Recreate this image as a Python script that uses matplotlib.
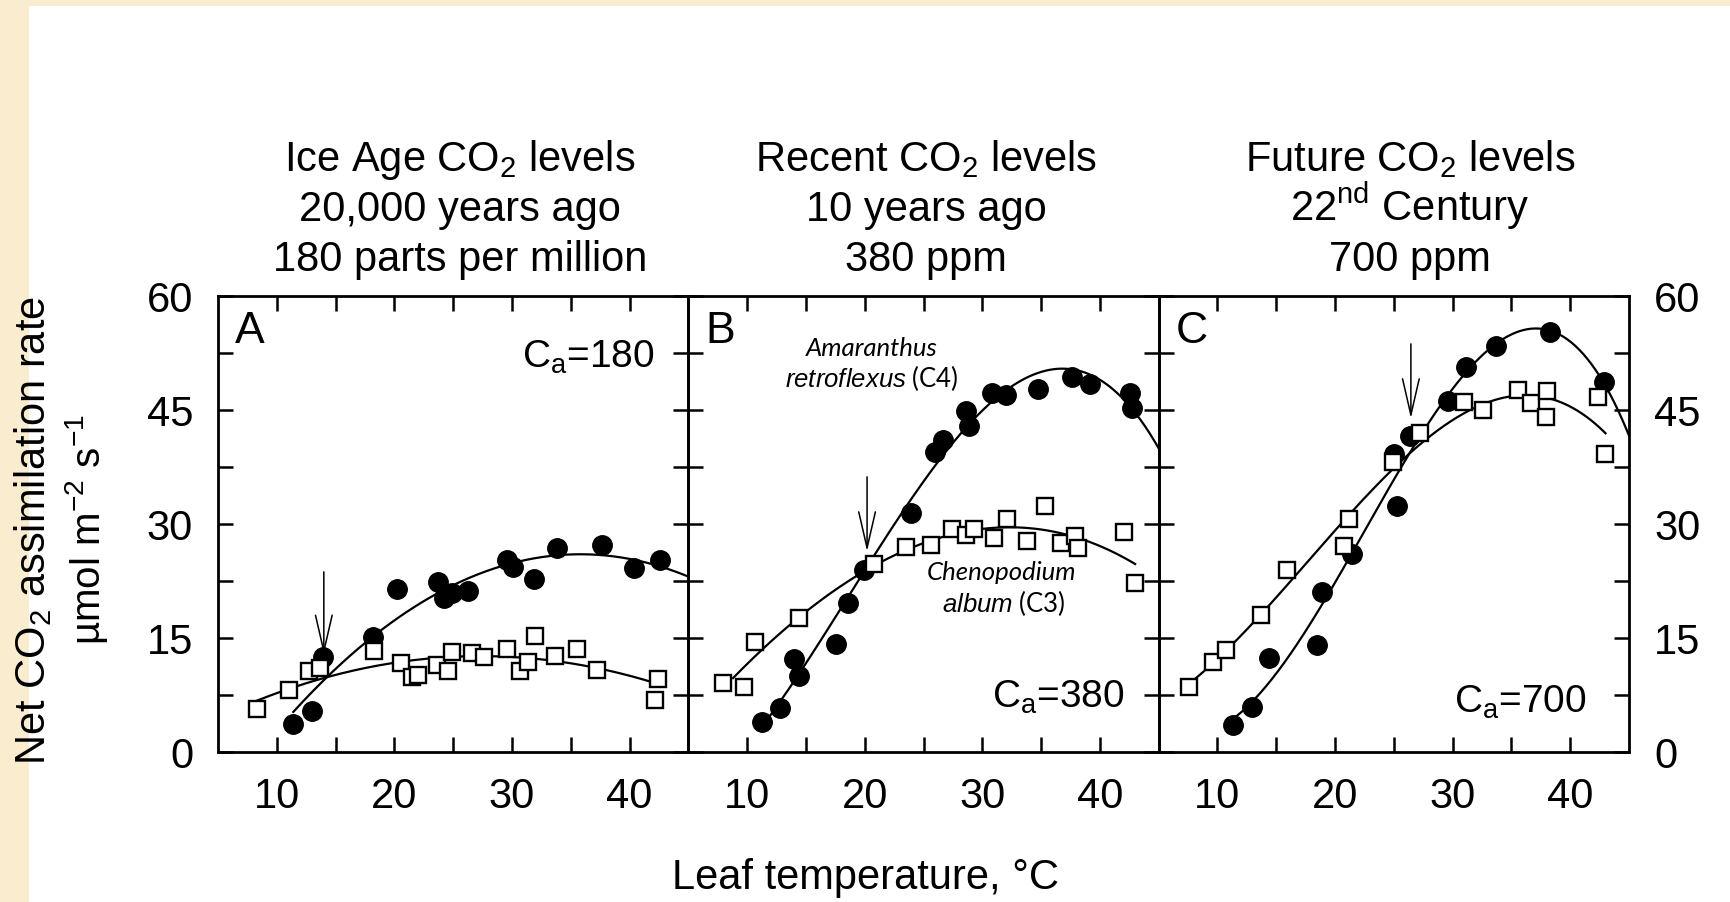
import matplotlib.pyplot as plt
import numpy as np
from matplotlib.patches import Rectangle

plt.rcParams['font.family'] = 'Liberation Sans'
plt.rcParams['mathtext.fontset'] = 'custom'
plt.rcParams['mathtext.rm'] = 'Liberation Sans'
plt.rcParams['mathtext.it'] = 'Liberation Sans:italic'

# --- data (leaf temperature degC, net assimilation umol m-2 s-1) ---
# panel A, Ca = 180
a_c4_t = [11.4, 13.0, 13.9, 18.2, 20.2, 23.7, 24.2, 24.9, 26.3, 29.6, 30.1, 31.9, 33.8, 37.7, 40.4, 42.6]
a_c4_a = [3.7, 5.4, 12.5, 15.1, 21.4, 22.4, 20.2, 20.9, 21.2, 25.3, 24.3, 22.7, 26.9, 27.2, 24.2, 25.3]
a_c3_t = [8.35, 11.0, 12.7, 13.7, 18.3, 20.6, 21.5, 22.05, 23.6, 24.6, 24.9, 26.6, 27.6, 29.6, 30.7,
          31.4, 32.0, 33.7, 35.5, 37.2, 42.4, 42.2]
a_c3_a = [5.7, 8.1, 10.6, 11.1, 13.3, 11.7, 9.9, 10.1, 11.4, 10.6, 13.1, 13.0, 12.5, 13.5, 10.7,
          11.9, 15.3, 12.6, 13.6, 10.8, 9.6, 6.9]
# panel B, Ca = 380
b_c4_t = [11.3, 12.8, 14.0, 14.4, 17.6, 18.6, 19.9, 23.9, 26.0, 26.7, 28.6, 28.85, 30.85, 32.0,
          34.7, 37.6, 39.15, 42.55, 42.7]
b_c4_a = [3.9, 5.75, 12.3, 10.0, 14.2, 19.6, 24.0, 31.5, 39.5, 41.05, 44.9, 42.9, 47.3, 47.0,
          47.7, 49.3, 48.4, 47.2, 45.2]
b_c3_t = [7.95, 9.7, 10.7, 14.45, 20.8, 23.5, 25.6, 27.4, 28.6, 29.3, 31.0, 32.1, 33.8, 35.3,
          36.7, 37.9, 38.1, 42.05, 43.0]
b_c3_a = [9.1, 8.6, 14.5, 17.6, 24.7, 27.0, 27.2, 29.3, 28.55, 29.4, 28.2, 30.7, 27.7, 32.4,
          27.5, 28.4, 26.9, 29.0, 22.2]
# panel C, Ca = 700
c_c4_t = [11.3, 12.9, 14.4, 18.5, 18.9, 21.4, 25.3, 25.0, 26.4, 29.6, 31.1, 33.7, 38.3, 42.85]
c_c4_a = [3.55, 5.96, 12.4, 14.1, 21.0, 26.1, 32.4, 39.2, 41.6, 46.2, 50.6, 53.4, 55.2, 48.7]
c_c3_t = [7.6, 9.6, 10.7, 13.7, 15.9, 20.8, 21.2, 24.9, 27.2, 31.0, 32.55, 35.6, 36.7, 38.0,
          37.9, 42.4, 42.96]
c_c3_a = [8.6, 11.9, 13.4, 18.0, 23.9, 27.1, 30.6, 38.1, 42.0, 46.0, 45.0, 47.6, 45.9, 47.5,
          44.1, 46.75, 39.2]

# x-extent of the fitted curves (start, end) and polynomial degree
c4_range = [(11.4, 45), (11.3, 45), (11.3, 45)]
c3_range = [(8.35, 42.4), (8.8, 43.0), (7.6, 43.0)]
c4_deg = [2, 3, 4]
c3_deg = [2, 3, 3]

# crossover arrows (x, top, tip)
arrow_x = [14.0, 20.2, 26.45]
arrow_top = [23.7, 36.2, 53.7]
arrow_tip = [12.8, 26.4, 43.9]

letters = ['A', 'B', 'C']
titles = [['Ice Age CO$\\mathregular{_2}$ levels', '20,000 years ago', '180 parts per million'],
          ['Recent CO$\\mathregular{_2}$ levels', '10 years ago', '380 ppm'],
          ['Future CO$\\mathregular{_2}$ levels', '22$\\mathregular{^{nd}}$ Century', '700 ppm']]
title_x = [460, 926, 1410]

W, H = 1730, 902
fig = plt.figure(figsize=(W / 100, H / 100), dpi=100, facecolor='#F9ECCF')
fig.add_artist(Rectangle((29 / W, 0), 1, 1 - 6 / H, transform=fig.transFigure,
                         facecolor='white', edgecolor='none', zorder=-10))

left, right, bot, top = 218 / W, 1629 / W, 1 - 752 / H, 1 - 296 / H
pw = (right - left) / 3
axs = [fig.add_axes([left + i * pw, bot, pw, top - bot]) for i in range(3)]

C4 = [(a_c4_t, a_c4_a), (b_c4_t, b_c4_a), (c_c4_t, c_c4_a)]
C3 = [(a_c3_t, a_c3_a), (b_c3_t, b_c3_a), (c_c3_t, c_c3_a)]

for i, ax in enumerate(axs):
    ax.set_xlim(5, 45); ax.set_ylim(0, 60)
    ax.set_facecolor('none')
    for s in ax.spines.values(): s.set_linewidth(2)
    ax.set_xticks(np.arange(10, 41, 5))
    ax.set_xticklabels(['10', '', '20', '', '30', '', '40'])
    ax.set_yticks(np.arange(0, 61, 7.5))
    ax.set_yticklabels(['0', '', '15', '', '30', '', '45', '', '60'])
    ax.tick_params(direction='in', length=11, width=1.8, top=True, right=True, labelsize=30,
                   labelleft=(i == 0), labelright=(i == 2))
    ax.tick_params(axis='y', pad=18)
    ax.tick_params(axis='x', pad=18)

    # fitted curves
    for (t, a), (x0, x1), d in ((C4[i], c4_range[i], c4_deg[i]), (C3[i], c3_range[i], c3_deg[i])):
        p = np.polyfit(t, a, d)
        xx = np.linspace(x0, x1, 200)
        ax.plot(xx, np.polyval(p, xx), color='black', lw=1.6, zorder=2)
    ax.plot(C4[i][0], C4[i][1], 'o', ms=14, color='black', zorder=3)
    ax.plot(C3[i][0], C3[i][1], 's', ms=11, mfc='white', mec='black', mew=1.7, zorder=4)

    ax.annotate('', xy=(arrow_x[i], arrow_tip[i]), xytext=(arrow_x[i], arrow_top[i]),
                arrowprops=dict(arrowstyle='->,head_length=1.3,head_width=0.3', lw=1.1,
                                color='black', shrinkA=0, shrinkB=0, mutation_scale=20), zorder=5)

    ax.text(0.036, 0.897, letters[i], transform=ax.transAxes, fontsize=32, va='baseline')
    for j, line in enumerate(titles[i]):
        fig.text(title_x[i] / W, 1 - (171 + 50 * j) / H, line, fontsize=30, ha='center', va='baseline')

axs[0].text(0.928, 0.842, 'C$\\mathregular{_a}$=180', transform=axs[0].transAxes, fontsize=28,
            ha='right', va='baseline')
axs[1].text(0.928, 0.0965, 'C$\\mathregular{_a}$=380', transform=axs[1].transAxes, fontsize=28,
            ha='right', va='baseline')
axs[2].text(0.91, 0.0855, 'C$\\mathregular{_a}$=700', transform=axs[2].transAxes, fontsize=28,
            ha='right', va='baseline')

# species labels in panel B
sp = dict(family='Lato', fontsize=18.5, ha='center', va='baseline')
axs[1].text(20.63, 52.1, 'Amaranthus', style='italic', **sp)
axs[1].text(20.63, 48.0, r'$\mathit{retroflexus}$ (C4)', **sp)
axs[1].text(31.6, 22.6, 'Chenopodium', style='italic', **sp)
axs[1].text(31.8, 18.4, r'$\mathit{album}$ (C3)', **sp)

fig.text(866 / W, 1 - 889 / H, 'Leaf temperature, \u00b0C', fontsize=30, ha='center', va='baseline')
fig.text(33 / W, 1 - 530 / H, 'Net CO$\\mathregular{_2}$ assimilation rate', fontsize=30,
         rotation=90, ha='center', va='center')
fig.text(86 / W, 1 - 530 / H, '\u00b5mol m$\\mathregular{^{-2}}$ s$\\mathregular{^{-1}}$', fontsize=29,
         rotation=90, ha='center', va='center')

fig.savefig('out.png', dpi=100, facecolor=fig.get_facecolor())
